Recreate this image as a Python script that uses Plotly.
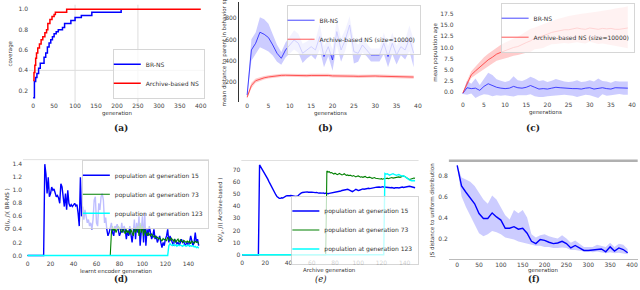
import plotly.graph_objects as go

# ---------------- (a) coverage ----------------
a_br_gen = [0, 3, 6, 9, 13, 17, 26, 30, 34, 38, 42, 46, 50, 55, 60, 70, 75, 90, 100, 115, 140, 210]
a_br_cov = [0.13, 0.29, 0.33, 0.37, 0.42, 0.47, 0.53, 0.57, 0.63, 0.67, 0.70, 0.73, 0.76, 0.78, 0.80, 0.82, 0.86, 0.89, 0.92, 0.94, 0.97, 1.0]
a_an_gen = [0, 2, 4, 6, 8, 11, 15, 19, 23, 28, 32, 35, 40, 45, 50, 53, 80, 400]
a_an_cov = [0.30, 0.38, 0.45, 0.52, 0.57, 0.62, 0.66, 0.70, 0.73, 0.77, 0.80, 0.86, 0.90, 0.93, 0.95, 0.97, 1.0, 1.0]

# ---------------- (b) distance to parent ----------------
b_gen = list(range(40))
b_br_mean = [80, 503, 566, 669, 650, 619, 550, 472, 425, 503, 550, 597, 566, 472, 503, 534, 503, 628, 441, 534,
             409, 675, 503, 597, 737, 487, 472, 550, 503, 456, 456, 456, 566, 441, 566, 456, 534, 503, 612, 472]
b_br_hi = [100, 603, 666, 809, 790, 749, 650, 552, 485, 573, 630, 687, 656, 562, 583, 614, 593, 748, 541, 624,
           509, 790, 613, 697, 820, 597, 552, 620, 563, 516, 516, 516, 666, 541, 666, 546, 614, 593, 732, 602]
b_br_lo = [60, 403, 466, 529, 510, 489, 450, 392, 365, 433, 470, 507, 476, 382, 423, 454, 413, 508, 341, 444,
           309, 545, 393, 497, 650, 377, 392, 480, 443, 396, 396, 396, 466, 341, 466, 366, 454, 413, 492, 342]
b_an_mean = [60, 170, 215, 232, 242, 250, 257, 262, 265, 266, 264, 263, 262, 263, 262, 264, 265, 266, 268, 264,
             260, 258, 257, 258, 259, 257, 256, 258, 257, 258, 259, 257, 256, 254, 253, 252, 253, 251, 250, 249]
b_an_hi = [75, 195, 235, 250, 258, 265, 272, 277, 280, 281, 279, 278, 277, 278, 277, 279, 280, 281, 283, 279,
           275, 273, 272, 273, 274, 272, 271, 273, 272, 273, 274, 272, 271, 269, 268, 267, 268, 266, 265, 264]
b_an_lo = [45, 145, 195, 214, 226, 235, 242, 247, 250, 251, 249, 248, 247, 248, 247, 249, 250, 251, 253, 249,
           245, 243, 242, 243, 244, 242, 241, 243, 242, 243, 244, 242, 241, 239, 238, 237, 238, 236, 235, 234]

# ---------------- (c) population age ----------------
c_gen = list(range(40))
c_an_mean = [-0.3, 1.9, 3.8, 4.7, 5.6, 6.4, 7.2, 7.8, 8.5, 8.9, 9.3, 9.6, 10.0, 10.2, 10.7, 11.1, 11.5, 12.1, 12.3, 12.6,
             13.0, 13.4, 13.6, 13.8, 14.0, 14.0, 14.2, 14.4, 14.2, 14.1, 14.4, 14.2, 14.1, 14.3, 14.2, 14.3, 14.1, 14.1, 14.3, 14.4]
c_an_hi = [-0.3, 2.5, 4.6, 5.7, 6.8, 7.8, 8.6, 9.3, 10.0, 10.6, 11.1, 11.6, 12.0, 12.4, 13.0, 13.6, 14.2, 14.5, 14.9, 15.3,
           15.7, 16.0, 16.3, 16.6, 16.9, 17.1, 17.3, 17.5, 17.6, 17.7, 17.8, 18.0, 18.1, 18.3, 18.4, 18.6, 18.8, 18.9, 19.1, 19.3]
c_an_lo = [-0.4, 1.4, 3.1, 3.8, 4.5, 5.1, 5.8, 6.4, 7.0, 7.3, 7.6, 7.8, 8.1, 8.3, 8.6, 8.8, 9.0, 9.6, 9.7, 9.9,
           10.3, 10.7, 10.8, 10.9, 11.0, 10.9, 11.0, 11.2, 11.0, 10.9, 11.3, 11.0, 10.8, 10.9, 10.7, 10.6, 10.4, 10.2, 10.0, 9.8]
c_br_mean = [-0.4, 0.9, 0.7, 0.8, 0.3, 1.2, 1.8, 1.4, 1.0, 0.8, 0.7, 0.8, 1.2, 0.9, 0.8, 1.0, 1.4, 1.0, 0.6, 0.7,
             0.6, 0.8, 1.0, 0.9, 0.8, 0.7, 0.7, 0.7, 0.6, 0.8, 0.9, 0.6, 0.8, 0.9, 0.7, 0.6, 0.9, 0.9, 0.8, 0.8]
c_br_hi = [-0.3, 2.5, 1.8, 3.0, 1.5, 3.0, 4.3, 3.8, 2.8, 2.5, 2.2, 2.5, 3.5, 2.6, 2.4, 2.8, 3.4, 3.0, 2.4, 2.6,
           2.2, 2.5, 2.9, 2.6, 2.3, 2.2, 2.3, 2.6, 2.2, 2.3, 2.6, 2.3, 3.0, 2.4, 2.3, 2.0, 2.4, 2.3, 2.3, 2.3]
c_br_lo = [-0.5, -0.7, -0.4, -1.4, -0.9, -0.6, -0.7, -1.0, -0.8, -0.9, -0.8, -0.9, -1.1, -0.8, -0.8, -0.8, -0.6, -1.0, -1.2, -1.2,
           -1.0, -0.9, -0.9, -0.8, -0.7, -0.8, -0.9, -1.2, -1.0, -0.7, -0.8, -1.1, -1.4, -0.6, -0.9, -0.8, -0.6, -0.5, -0.7, -0.7]

# ---------------- (d) Q (BR-NS) ----------------
d_gen = list(range(150))
d_q15 = [0] * 15 + [
    1.4, 1.25, 0.95, 1.2, 0.9, 0.95, 1.05, 1.0, 1.02, 0.95,
    0.9, 0.92, 0.88, 0.8, 1.1, 1.05, 0.85, 0.75, 0.95, 0.7,
    1.0, 0.8, 0.75, 0.78, 0.75, 0.78, 0.8, 0.76, 0.78, 0.65,
    0.45, 1.2, 0.6, 0.75, 0.55, 0.7, 0.6, 0.5, 0.55, 0.45,
    0.5, 0.4, 0.55, 0.85, 0.9, 0.5, 0.45, 0.8, 0.7, 0.9,
    0.95, 0.85, 0.5, 0.58, 0.4, 0.3, 0.35, 0.45, 0.5, 0.35,
    0.3, 0.45, 0.42, 0.48, 0.4, 0.3, 0.35, 0.5, 0.35, 0.45,
    0.4, 0.25, 0.38, 0.3, 0.45, 0.35, 0.2, 0.35, 0.55, 0.25,
    0.5, 0.35, 0.6, 0.15, 0.45, 0.6, 0.2, 0.65, 0.15, 0.4,
    0.3, 0.45, 0.35, 0.25, 0.3, 0.4, 0.25, 0.3, 0.2, 0.25,
    0.3, 0.2, 0.12, 0.2, 0.15, 0.25, 0.3, 0.4, 0.2, 0.3,
    0.25, 0.2, 0.15, 0.25, 0.2, 0.18, 0.2, 0.15, 0.2, 0.25,
    0.2, 0.22, 0.15, 0.18, 0.2, 0.15, 0.2, 0.3, 0.2, 0.15,
    0.2, 0.35, 0.2, 0.25, 0.15]
d_q73 = [0] * 73 + [
    0.35, 0.45, 0.38, 0.42, 0.35, 0.4, 0.45, 0.42, 0.38, 0.35,
    0.4, 0.38, 0.33, 0.4, 0.35, 0.38, 0.32, 0.4, 0.35, 0.3,
    0.42, 0.35, 0.4, 0.45, 0.3, 0.5, 0.35, 0.45, 0.3, 0.4,
    0.35, 0.3, 0.35, 0.32, 0.3, 0.33, 0.3, 0.28, 0.3, 0.27,
    0.28, 0.25, 0.27, 0.25, 0.22, 0.26, 0.24, 0.25, 0.22, 0.28,
    0.25, 0.22, 0.27, 0.24, 0.22, 0.25, 0.2, 0.23, 0.25, 0.2,
    0.24, 0.22, 0.2, 0.23, 0.21, 0.2, 0.22, 0.2, 0.22, 0.18,
    0.22, 0.2, 0.19, 0.22, 0.2, 0.21, 0.18]
d_q123 = [0] * 123 + [
    0.15, 0.18, 0.16, 0.15, 0.17, 0.15, 0.16, 0.14, 0.16, 0.15,
    0.16, 0.15, 0.14, 0.16, 0.15, 0.14, 0.15, 0.16, 0.14, 0.15,
    0.14, 0.15, 0.13, 0.14, 0.12, 0.13, 0.11]

# ---------------- (e) Q (Archive-based) ----------------
e_gen = list(range(150))
e_q15 = [0] * 15 + [
    74, 72.5, 71, 69.5, 68, 66, 64, 62.5, 60.5, 58.5,
    56.5, 54.5, 52.5, 51, 49.5, 48, 47, 46.5, 46.5, 47,
    46.8, 47.5, 48, 48.5, 48.7, 48.5, 48.6, 48.8, 48.5, 48.2,
    48.4, 48.0, 48.2, 48.5, 49.5, 50.5, 51, 51.3, 51.5, 51.3,
    51.5, 51.8, 51.5, 51.2, 51.5, 51.6, 51.3, 51.0, 51.2, 51.4,
    51.0, 50.8, 51.0, 50.6, 50.8, 51.0, 50.5, 50.8, 50.5, 50.3,
    50.6, 50.8, 50.5, 50.9, 51.2, 51.0, 51.5, 51.8, 52.0, 52.3,
    52.6, 53.0, 53.2, 53.5, 53.8, 54.2, 54.0, 53.5, 53.0, 52.5,
    52.0, 52.6, 53.2, 54.0, 53.5, 53.0, 53.2, 53.6, 54.0, 54.3,
    54.0, 54.2, 54.6, 55.0, 54.8, 54.5, 54.8, 55.2, 55.5, 55.8,
    55.5, 55.7, 56.0, 55.8, 55.6, 55.9, 56.1, 55.8, 55.6, 55.4,
    55.6, 55.3, 55.0, 55.2, 55.4, 55.1, 54.9, 55.2, 55.5, 55.3,
    55.0, 55.3, 55.6, 55.8, 55.5, 55.8, 56.1, 55.9, 56.2, 56.5,
    56.3, 56.0, 55.5, 55.3, 55.2]
e_q73 = [0] * 73 + [
    69, 68.2, 68.5, 67.5, 67.8, 67.0, 66.5, 67.2, 66.8, 66.0,
    66.5, 67.0, 66.3, 65.8, 66.2, 66.8, 66.0, 65.5, 65.8, 65.2,
    65.6, 65.0, 64.8, 65.3, 64.6, 64.2, 64.8, 65.0, 64.5, 64.0,
    64.3, 63.8, 64.2, 64.6, 63.9, 63.5, 63.8, 64.0, 63.4, 63.0,
    63.3, 63.6, 63.0, 62.8, 63.2, 62.9, 62.5, 62.7, 62.3, 62.6,
    62.4, 62.8, 63.1, 62.7, 63.0, 63.4, 63.6, 63.2, 63.5, 63.9,
    63.6, 64.0, 64.2, 63.8, 64.4, 64.8, 65.0, 64.6, 63.8, 63.0,
    62.5, 62.0, 62.3, 62.8, 63.0, 63.2, 63.0]
e_q123 = [0] * 123 + [
    67.0, 66.5, 66.8, 66.2, 65.6, 66.0, 66.5, 66.8, 66.3, 65.9,
    65.5, 65.8, 66.1, 65.6, 65.2, 64.8, 65.1, 64.6, 64.0, 63.2,
    62.5, 61.8, 61.3, 61.0, 61.2, 60.8, 61.0]

# ---------------- (f) JS distance ----------------
f_gen = list(range(0, 400, 10))
f_mean = [0.896, 0.70, 0.64, 0.585, 0.53, 0.437, 0.39, 0.39, 0.443, 0.405,
          0.375, 0.297, 0.297, 0.312, 0.288, 0.297, 0.25, 0.173, 0.151, 0.19,
          0.182, 0.164, 0.151, 0.157, 0.173, 0.151, 0.11, 0.133, 0.11, 0.086,
          0.086, 0.089, 0.095, 0.10, 0.073, 0.12, 0.08, 0.11, 0.095, 0.064]
f_hi = [0.90, 0.78, 0.76, 0.74, 0.70, 0.63, 0.57, 0.53, 0.61, 0.57,
        0.50, 0.42, 0.38, 0.47, 0.44, 0.47, 0.40, 0.24, 0.21, 0.23,
        0.24, 0.22, 0.21, 0.20, 0.23, 0.20, 0.16, 0.18, 0.15, 0.12,
        0.12, 0.12, 0.14, 0.13, 0.12, 0.16, 0.12, 0.15, 0.14, 0.10]
f_lo = [0.89, 0.60, 0.50, 0.42, 0.33, 0.25, 0.22, 0.24, 0.27, 0.26,
        0.24, 0.21, 0.20, 0.19, 0.17, 0.16, 0.155, 0.14, 0.13, 0.13,
        0.12, 0.12, 0.11, 0.11, 0.115, 0.11, 0.09, 0.09, 0.08, 0.075,
        0.075, 0.07, 0.075, 0.07, 0.06, 0.07, 0.06, 0.065, 0.06, 0.05]

BLUE = '#0000ff'
RED = '#ff0000'
GREEN = '#008000'
CYAN = '#00ffff'
BLUE_BAND = 'rgba(0,0,255,0.2)'
RED_BAND = 'rgba(255,0,0,0.2)'

fig = go.Figure()


def band(x, lo, hi, color, xa, ya):
    fig.add_trace(go.Scatter(x=x, y=lo, mode='lines', line=dict(width=0), showlegend=False,
                             hoverinfo='skip', xaxis=xa, yaxis=ya))
    fig.add_trace(go.Scatter(x=x, y=hi, mode='lines', line=dict(width=0), fill='tonexty',
                             fillcolor=color, showlegend=False, hoverinfo='skip', xaxis=xa, yaxis=ya))


def line(x, y, color, name, xa, ya, legend, width=1.2, shape='linear', showlegend=True):
    fig.add_trace(go.Scatter(x=x, y=y, mode='lines', name=name, line=dict(color=color, width=width, shape=shape),
                             xaxis=xa, yaxis=ya, legend=legend, showlegend=showlegend))


# (a)
line(a_br_gen, a_br_cov, BLUE, 'BR-NS', 'x', 'y', 'legend', width=1.5, shape='hv')
line(a_an_gen, a_an_cov, RED, 'Archive-based NS', 'x', 'y', 'legend', width=1.5, shape='hv')

# (b)
band(b_gen, b_br_lo, b_br_hi, BLUE_BAND, 'x2', 'y2')
band(b_gen, b_an_lo, b_an_hi, RED_BAND, 'x2', 'y2')
line(b_gen, b_br_mean, 'rgba(40,40,255,0.85)', 'BR-NS', 'x2', 'y2', 'legend2', width=1)
line(b_gen, b_an_mean, 'rgba(255,60,60,0.85)', 'Archive-based NS (size=10000)', 'x2', 'y2', 'legend2', width=1)

# (c)
band(c_gen, c_br_lo, c_br_hi, BLUE_BAND, 'x3', 'y3')
band(c_gen, c_an_lo, c_an_hi, RED_BAND, 'x3', 'y3')
line(c_gen, c_br_mean, 'rgba(40,40,255,0.85)', 'BR-NS', 'x3', 'y3', 'legend3', width=1)
line(c_gen, c_an_mean, 'rgba(255,60,60,0.85)', 'Archive-based NS (size=10000)', 'x3', 'y3', 'legend3', width=1)

# (d)
line(d_gen, d_q15, BLUE, 'population at generation 15', 'x4', 'y4', 'legend4', width=1.4)
line(d_gen[:len(d_q73)], d_q73, GREEN, 'population at generation 73', 'x4', 'y4', 'legend4', width=1.1)
line(d_gen[:len(d_q123)], d_q123, CYAN, 'population at generation 123', 'x4', 'y4', 'legend4', width=1.4)

# (e)
line(e_gen, e_q15, BLUE, 'population at generation 15', 'x5', 'y5', 'legend5', width=1.4)
line(e_gen[:len(e_q73)], e_q73, GREEN, 'population at generation 73', 'x5', 'y5', 'legend5', width=1.1)
line(e_gen[:len(e_q123)], e_q123, CYAN, 'population at generation 123', 'x5', 'y5', 'legend5', width=1.4)

# (f)
band(f_gen, f_lo, f_hi, BLUE_BAND, 'x6', 'y6')
line(f_gen, f_mean, BLUE, 'JS', 'x6', 'y6', 'legend', width=1.4, showlegend=False)

TICKFONT = dict(size=6, color='#444')
TITLEFONT = dict(family='DejaVu Sans', size=5.5, color='#333')


def xax(domain, rng, anchor, dtick, **kw):
    d = dict(domain=domain, range=rng, anchor=anchor, dtick=dtick, tick0=0,
             showgrid=False, zeroline=False, ticks='', tickfont=TICKFONT, showline=False,
             ticklabelstandoff=-1)
    d.update(kw)
    return d


def yax(domain, rng, anchor, **kw):
    d = dict(domain=domain, range=rng, anchor=anchor,
             showgrid=False, zeroline=False, ticks='', tickfont=TICKFONT, showline=False)
    d.update(kw)
    return d


LEG = dict(bgcolor='rgba(255,255,255,0.75)', bordercolor='#cccccc', borderwidth=0.8,
           font=dict(size=6, color='#333'), itemwidth=30, tracegroupgap=0,
           traceorder='normal', indentation=-8)

fig.update_layout(
    width=640, height=290, margin=dict(l=0, r=0, t=0, b=0),
    paper_bgcolor='white', plot_bgcolor='white',
    font=dict(family='DejaVu Sans', size=6, color='#333'),
    xaxis=xax([0.0439, 0.3202], [-10, 410], 'y', 50),
    yaxis=yax([0.6469, 0.9837], [0.085, 1.045], 'x', dtick=0.2, tick0=0, tickformat='.1f'),
    xaxis2=xax([0.3733, 0.6609], [-1.95, 40.95], 'y2', 5),
    yaxis2=yax([0.6493, 0.9921], [18, 950], 'x2', dtick=200, tick0=0,
               showline=True, linecolor='#333', linewidth=1),
    xaxis3=xax([0.712, 0.997], [-1.95, 40.95], 'y3', 5),
    yaxis3=yax([0.6517, 0.989], [-2.1, 20], 'x3', dtick=2.5, tick0=0, tickformat='.1f'),
    xaxis4=xax([0.0345, 0.3266], [-4, 158], 'y4', 20),
    yaxis4=yax([0.1035, 0.4495], [-0.07, 1.47], 'x4', dtick=0.2, tick0=0, tickformat='.1f'),
    xaxis5=xax([0.3773, 0.6555], [-0.7, 152], 'y5', 20),
    yaxis5=yax([0.1059, 0.4466], [-3.7, 77.7], 'x5', dtick=10, tick0=0),
    xaxis6=xax([0.7031, 0.9995], [-19, 413], 'y6', 50,
               showline=True, linecolor='#bbbbbb', linewidth=1),
    yaxis6=yax([0.1052, 0.4459], [0, 0.94], 'x6', tickvals=[0.2, 0.4, 0.6, 0.8], tickformat='.1f'),
    legend=dict(LEG, x=0.3202, y=0.6586, xanchor='right', yanchor='bottom'),
    legend2=dict(LEG, x=0.659, y=0.983, xanchor='right', yanchor='top'),
    legend3=dict(LEG, x=0.995, y=0.99, xanchor='right', yanchor='top'),
    legend4=dict(LEG, x=0.3266, y=0.4483, xanchor='right', yanchor='top'),
    legend5=dict(LEG, x=0.6555, y=0.325, xanchor='right', yanchor='top'),
)

# light grid lines in (a), frame lines in the lower panels
a_grid_x = [100, 250]
a_grid_y = [0.4]
shapes = []
for gx in a_grid_x:
    shapes.append(dict(type='line', xref='x', yref='y domain', x0=gx, x1=gx, y0=0, y1=1,
                       line=dict(color='#dddddd', width=1), layer='below'))
for gy in a_grid_y:
    shapes.append(dict(type='line', xref='x domain', yref='y', x0=0, x1=1, y0=gy, y1=gy,
                       line=dict(color='#dddddd', width=1), layer='below'))
for xr, yr, col, w in [('x4 domain', 'y4 domain', '#e0e0e0', 1), ('x5 domain', 'y5 domain', '#e0e0e0', 1),
                       ('x6 domain', 'y6 domain', '#b0b0b0', 2.5)]:
    shapes.append(dict(type='line', xref=xr, yref=yr, x0=0, x1=1, y0=1, y1=1,
                       line=dict(color=col, width=w)))
fig.update_layout(shapes=shapes)

# axis titles (x: below tick labels, y: rotated left of tick labels)
x_titles = [('', 'generation'), ('2', 'generations'), ('3', 'generations'),
            ('4', 'learnt encoder generation'), ('5', 'Archive generation'), ('6', 'generation')]
for ax, txt in x_titles:
    fig.add_annotation(text=txt, xref='x%s domain' % ax, yref='y%s domain' % ax, x=0.5, y=0,
                       yanchor='middle', yshift=-11.5, showarrow=False, font=TITLEFONT, borderpad=0)

y_titles = [('', 'coverage', -18, 0.5, 'middle'),
            ('2', 'mean distance to parent in behavior space', -14, -0.055, 'bottom'),
            ('3', 'mean population age', -19, 0.5, 'middle'),
            ('4', 'Q(<i>I</i><sub>λ</sub>, <i>J</i>)( BR-NS )', -15, 0.5, 'middle'),
            ('5', 'Q(<i>I</i><sub>λ</sub>, <i>J</i>)( Archive-based )', -20, 0.5, 'middle'),
            ('6', 'JS distance to uniform distribution', -17, 0.5, 'middle')]
for ax, txt, xs, yy, ya in y_titles:
    fig.add_annotation(text=txt, xref='x%s domain' % ax, yref='y%s domain' % ax, x=0, y=yy,
                       xanchor='center', yanchor=ya, xshift=xs, textangle=-90, showarrow=False,
                       font=TITLEFONT, borderpad=0)

labels = [('(a)', 0.1766, 1 - 128 / 290, 9), ('(b)', 0.510, 1 - 128 / 290, 9), ('(c)', 0.847, 1 - 128 / 290, 9),
          ('(d)', 0.1766, 1 - 285.3 / 290, 8.5), ('(e)', 0.502, 1 - 285.3 / 290, 8.5),
          ('(f)', 0.847, 1 - 285.3 / 290, 8.5)]
for txt, x, y, sz in labels:
    fig.add_annotation(text='<b>%s</b>' % txt if txt != '(e)' else '<i>%s</i>' % txt,
                       x=x, y=y, xref='paper', yref='paper', showarrow=False, borderpad=0,
                       font=dict(family='DejaVu Serif', size=sz, color='#222'))

fig.write_html('out.html', config={'displayModeBar': False},
               post_script="document.body.style.margin='0px';")
